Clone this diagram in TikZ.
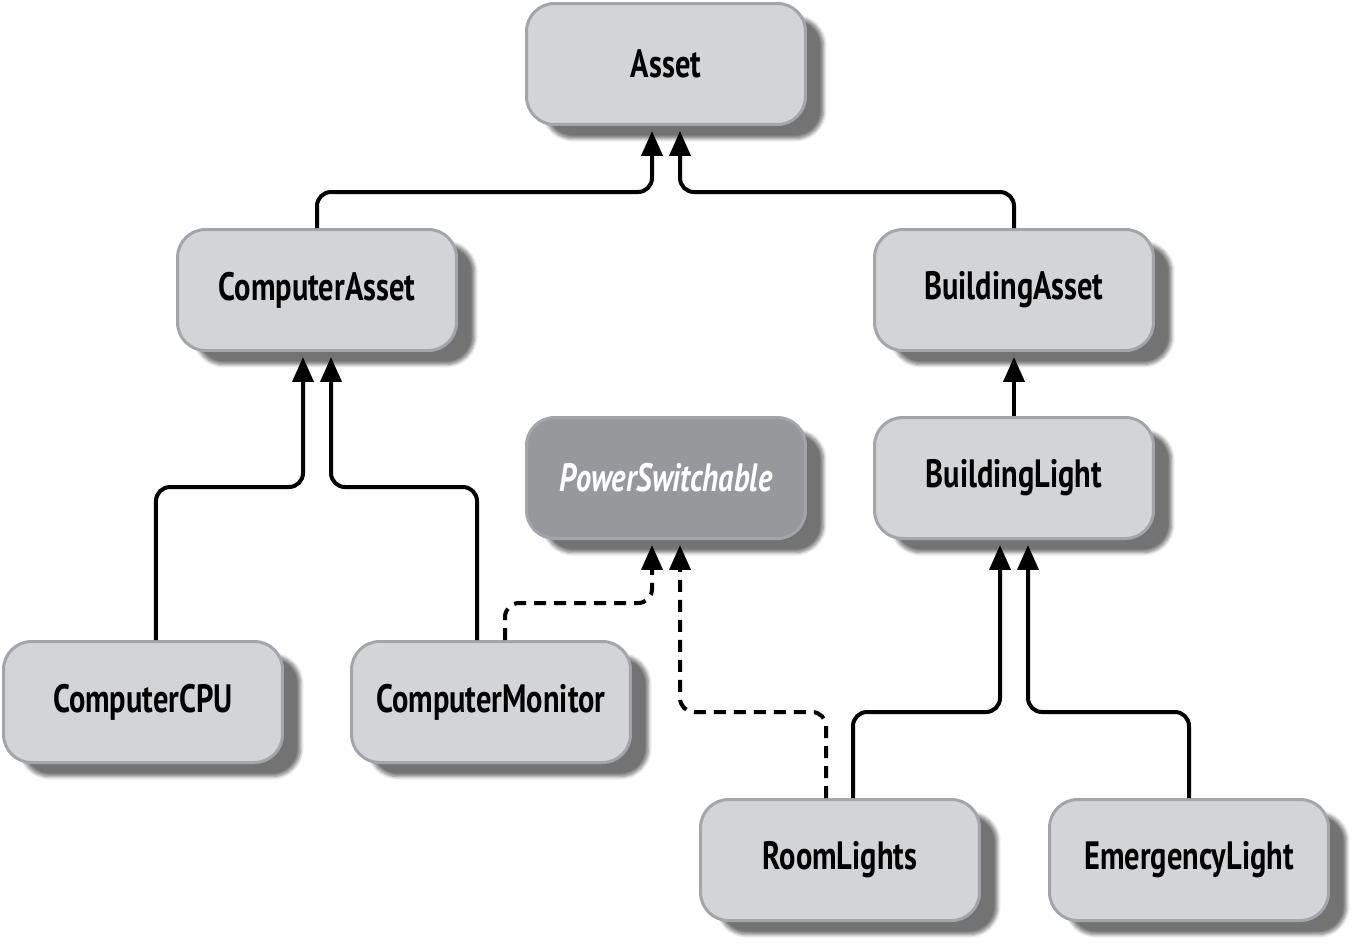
\documentclass[tikz,border=0pt]{standalone}
\usepackage{fontspec}
\setmainfont{PT Sans}[FakeStretch=0.77]
\usetikzlibrary{positioning,arrows.meta,shadows.blur}
\definecolor{boxfill}{HTML}{D3D4D6}
\definecolor{boxedge}{HTML}{A3A5A8}
\definecolor{ifacefill}{HTML}{97989B}

\tikzset{
  classbox/.style={rounded corners=0.56cm, draw=boxedge, line width=0.06cm, fill=boxfill,
    minimum width=5.58cm, minimum height=2.42cm, inner sep=0pt,
    font=\fontsize{22.5}{26}\selectfont\bfseries,
    blur shadow={shadow xshift=0.36cm, shadow yshift=-0.28cm, shadow opacity=55, shadow blur steps=6}},
  ifacebox/.style={classbox, fill=ifacefill, text=white, font=\fontsize{22.5}{26}\selectfont\bfseries\itshape},
  inherit/.style={line width=0.08cm, rounded corners=0.28cm, shorten >=0.1cm,
    -{Triangle[length=0.5cm, width=0.42cm]}},
  realize/.style={inherit, dash pattern=on 0.24cm off 0.16cm}
}

\begin{document}
\begin{tikzpicture}[x=0.02cm, y=-0.02cm]
    \useasboundingbox (0,0) rectangle (1355,948);

    \node[classbox] (asset) at (666,64) {Asset};
    \node[classbox] (casset) at (317,290) {ComputerAsset};
    \node[classbox] (basset) at (1014,290) {BuildingAsset};
    \node[ifacebox] (power) at (666,478) {PowerSwitchable};
    \node[classbox] (blight) at (1014,478) {BuildingLight};
    \node[classbox] (cpu) at (143,702) {ComputerCPU};
    \node[classbox] (monitor) at (491,702) {ComputerMonitor};
    \node[classbox] (room) at (840,860) {RoomLights};
    \node[classbox] (emergency) at (1189,860) {EmergencyLight};

    % inheritance
    \draw[inherit] (casset.north) -- ++(0,-36) -| ([xshift=-0.28cm]asset.south);
    \draw[inherit] (basset.north) -- ++(0,-36) -| ([xshift=0.28cm]asset.south);
    \draw[inherit] ([xshift=0.26cm]cpu.north) -- ++(0,-153) -| ([xshift=-0.28cm]casset.south);
    \draw[inherit] ([xshift=-0.28cm]monitor.north) -- ++(0,-153) -| ([xshift=0.28cm]casset.south);
    \draw[inherit] (blight.north) -- (basset.south);
    \draw[inherit] ([xshift=0.26cm]room.north) -- ++(0,-86) -| ([xshift=-0.28cm]blight.south);
    \draw[inherit] (emergency.north) -- ++(0,-86) -| ([xshift=0.28cm]blight.south);

    % interface
    \draw[realize] ([xshift=0.28cm]monitor.north) -- ++(0,-37) -| ([xshift=-0.28cm]power.south);
    \draw[realize] ([xshift=-0.28cm]room.north) -- ++(0,-86) -| ([xshift=0.28cm]power.south);
\end{tikzpicture}
\end{document}
